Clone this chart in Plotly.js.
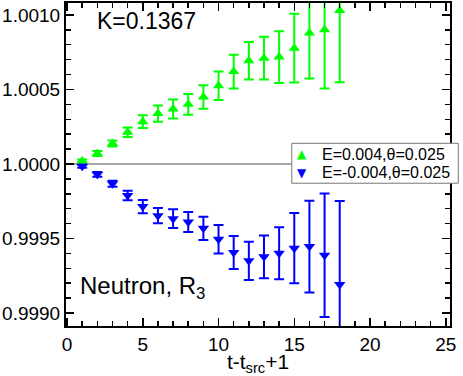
<!DOCTYPE html>
<html>
<head>
<meta charset="utf-8">
<script src="https://cdn.plot.ly/plotly-3.0.1.min.js"></script>
<style>
  html, body { margin: 0; padding: 0; background: #fff; }
  #plot { width: 463px; height: 376px; }
</style>
</head>
<body>
<div id="plot"></div>
<script>
var tsteps = [1, 2, 3, 4, 5, 6, 7, 8, 9, 10, 11, 12, 13, 14, 15, 16, 17, 18];

// E=0.004, theta=0.025
var posVals = [1.00002, 1.00007, 1.000137, 1.000213, 1.000284, 1.000338, 1.000369, 1.0004, 1.00045,
               1.000525, 1.00062, 1.000692, 1.00071, 1.000717, 1.000777, 1.000878, 1.0009, 1.00103];
var posErrs = [0.00001, 0.000017, 0.00002, 0.000032, 0.000043, 0.000054, 0.000064, 0.000069, 0.000079,
               0.000096, 0.000113, 0.000126, 0.000143, 0.000174, 0.000231, 0.000304, 0.000393, 0.000482];

// E=-0.004, theta=0.025
var negVals = [0.999985, 0.99993, 0.999867, 0.999789, 0.999714, 0.999653, 0.999633, 0.99961, 0.999568,
               0.999495, 0.999406, 0.99935, 0.999377, 0.999401, 0.999435, 0.999446, 0.999388, 0.999192];
var negErrs = [0.00001, 0.000016, 0.00002, 0.000032, 0.000044, 0.000051, 0.000063, 0.000067, 0.000078,
               0.000096, 0.00011, 0.000128, 0.000144, 0.000175, 0.000236, 0.000308, 0.000414, 0.00056];

var seriesNames = ['E=0.004,θ=0.025', 'E=-0.004,θ=0.025'];
var seriesColors = ['#00ff00', '#0000ff'];

var FONT = 'Liberation Sans, Arial, Helvetica, sans-serif';

var traces = [
    {
        x: tsteps, y: posVals, type: 'scatter', mode: 'markers',
        name: seriesNames[0],
        marker: {symbol: 'triangle-up', size: 10, color: seriesColors[0]},
        error_y: {type: 'data', array: posErrs, visible: true, color: seriesColors[0], thickness: 2, width: 5}
    },
    {
        x: tsteps, y: negVals, type: 'scatter', mode: 'markers',
        name: seriesNames[1],
        marker: {symbol: 'triangle-down', size: 10, color: seriesColors[1]},
        error_y: {type: 'data', array: negErrs, visible: true, color: seriesColors[1], thickness: 2, width: 5}
    }
];

var axisStyle = {
    showline: true, linecolor: '#000', linewidth: 2, mirror: 'ticks',
    ticks: 'inside', ticklen: 8, tickwidth: 1.5, tickcolor: '#000',
    showgrid: false, zeroline: false,
    tickfont: {family: FONT, size: 19, color: '#000'}
};

// legend box drawn by hand, xmgrace style (tight rows)
var legX0 = 0.588, legX1 = 1.0216, legY0 = 0.442, legY1 = 0.5656;
var rowY = [0.5325, 0.4737];
var legendNotes = [];
seriesNames.forEach(function (nm, i) {
    legendNotes.push({
        text: i === 0 ? '▲' : '▼', xref: 'paper', yref: 'paper', x: 0.6148, y: rowY[i],
        xanchor: 'center', yanchor: 'middle', showarrow: false,
        font: {family: 'DejaVu Sans', size: 12, color: seriesColors[i]}
    });
    legendNotes.push({
        text: nm, xref: 'paper', yref: 'paper', x: 0.6615, y: rowY[i],
        xanchor: 'left', yanchor: 'middle', showarrow: false,
        font: {family: FONT, size: 16, color: '#000'}
    });
});

var layout = {
    width: 463, height: 376,
    margin: {l: 66, r: 13, t: 3, b: 50},
    paper_bgcolor: '#fff', plot_bgcolor: '#fff',
    font: {family: FONT, color: '#000'},
    showlegend: false,
    xaxis: Object.assign({}, axisStyle, {
        range: [-0.07, 25.28], dtick: 5, tick0: 0,
        minor: {dtick: 1, ticks: 'inside', ticklen: 5, tickwidth: 1.5, tickcolor: '#000'},
        title: {text: 't-t<sub>src</sub>+1', font: {family: FONT, size: 21}, standoff: 2}
    }),
    yaxis: Object.assign({}, axisStyle, {
        range: [0.998913, 1.00108], dtick: 0.0005, tick0: 1, tickformat: '.4f',
        minor: {dtick: 0.0001, ticks: 'inside', ticklen: 5, tickwidth: 1.5, tickcolor: '#000'}
    }),
    shapes: [
        {type: 'line', xref: 'paper', x0: 0, x1: 1, yref: 'y', y0: 1, y1: 1,
         line: {color: '#555', width: 1}, layer: 'below'},
        {type: 'rect', xref: 'paper', yref: 'paper', x0: legX0, x1: legX1, y0: legY0, y1: legY1,
         fillcolor: '#fff', line: {color: '#777', width: 1}, layer: 'above'}
    ],
    annotations: [
        {text: 'K=0.1367', xref: 'paper', yref: 'paper', x: 0.075, y: 0.945,
         xanchor: 'left', yanchor: 'middle', showarrow: false,
         font: {family: FONT, size: 23, color: '#000'}},
        {text: 'Neutron, R<sub>3</sub>', xref: 'paper', yref: 'paper', x: 0.03, y: 0.12,
         xanchor: 'left', yanchor: 'middle', showarrow: false,
         font: {family: FONT, size: 24, color: '#000'}}
    ].concat(legendNotes)
};

Plotly.newPlot('plot', traces, layout, {displayModeBar: false, staticPlot: true});
</script>
</body>
</html>
